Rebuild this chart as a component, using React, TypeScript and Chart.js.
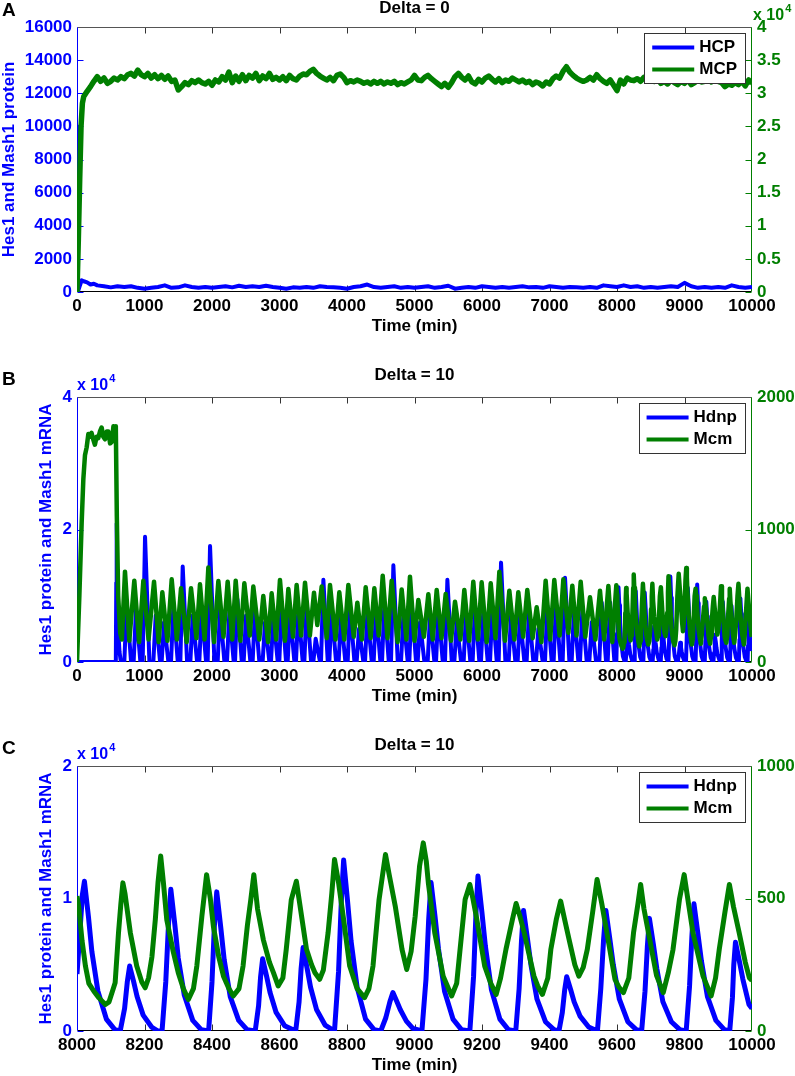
import React, { useEffect, useRef } from "react";
import { Chart, registerables } from "chart.js";
Chart.register(...registerables);

const BLUE = "#0000ff";
const GREEN = "#007f00";
const FONT = '"Liberation Sans", Arial, Helvetica, sans-serif';

// ---------------- Panel A (Delta = 0) ----------------
const A_HCP_T = [0, 8, 20, 40, 70, 100, 150, 200, 250, 300,
  400, 500, 600, 700, 800, 900, 1000, 1100, 1200, 1300, 1400, 1500, 1600, 1700, 1800, 1900,
  2000, 2100, 2200, 2300, 2400, 2500, 2600, 2700, 2800, 2900, 3000, 3100, 3200, 3300, 3400,
  3500, 3600, 3700, 3800, 3900, 4000, 4100, 4200, 4300, 4400, 4500, 4600, 4700, 4800, 4900,
  5000, 5100, 5200, 5300, 5400, 5500, 5600, 5700, 5800, 5900, 6000, 6100, 6200, 6300, 6400,
  6500, 6600, 6700, 6800, 6900, 7000, 7100, 7200, 7300, 7400, 7500, 7600, 7700, 7800, 7900,
  8000, 8100, 8200, 8300, 8400, 8500, 8600, 8700, 8800, 8900, 9000, 9100, 9200, 9300, 9400,
  9500, 9600, 9700, 9800, 9900, 10000];
const A_HCP = [10000, 1500, 100, 350, 700, 650, 580, 450, 500, 400,
  350, 280, 350, 300, 350, 250, 200, 250, 300, 400, 250, 280, 400, 300, 250, 300,
  250, 300, 350, 280, 380, 300, 350, 300, 380, 300, 250, 200, 280, 250, 300,
  250, 350, 300, 280, 250, 200, 300, 350, 450, 300, 250, 300, 350, 250, 300,
  250, 300, 350, 250, 300, 380, 200, 250, 300, 250, 350, 300, 250, 300, 250,
  300, 350, 280, 300, 250, 350, 300, 250, 300, 280, 250, 300, 250, 400, 350,
  300, 400, 300, 350, 250, 300, 250, 300, 350, 300, 550, 350, 250, 300, 250,
  300, 250, 400, 300, 250, 300];

const A_MCP_T = [0, 20, 40, 60, 80, 100, 150, 200, 250, 300, 350, 400, 450, 500, 550, 600, 650, 700, 750, 800, 850, 900, 950,
  1000, 1050, 1100, 1150, 1200, 1250, 1300, 1350, 1400, 1450, 1500, 1550, 1600, 1650, 1700, 1750, 1800, 1850, 1900, 1950,
  2000, 2050, 2100, 2150, 2200, 2250, 2300, 2350, 2400, 2450, 2500, 2550, 2600, 2650, 2700, 2750, 2800, 2850, 2900, 2950,
  3000, 3050, 3100, 3150, 3200, 3250, 3300, 3350, 3400, 3450, 3500, 3550, 3600, 3650, 3700, 3750, 3800, 3850, 3900, 3950,
  4000, 4050, 4100, 4150, 4200, 4250, 4300, 4350, 4400, 4450, 4500, 4550, 4600, 4650, 4700, 4750, 4800, 4850, 4900, 4950,
  5000, 5050, 5100, 5150, 5200, 5250, 5300, 5350, 5400, 5450, 5500, 5550, 5600, 5650, 5700, 5750, 5800, 5850, 5900, 5950,
  6000, 6050, 6100, 6150, 6200, 6250, 6300, 6350, 6400, 6450, 6500, 6550, 6600, 6650, 6700, 6750, 6800, 6850, 6900, 6950,
  7000, 7050, 7100, 7150, 7200, 7250, 7300, 7350, 7400, 7450, 7500, 7550, 7600, 7650, 7700, 7750, 7800, 7850, 7900, 7950,
  8000, 8050, 8100, 8150, 8200, 8250, 8300, 8350, 8400, 8450, 8500, 8550, 8600, 8650, 8700, 8750, 8800, 8850, 8900, 8950,
  9000, 9050, 9100, 9150, 9200, 9250, 9300, 9350, 9400, 9450, 9500, 9550, 9600, 9650, 9700, 9750, 9800, 9850, 9900, 9950,
  10000];
const A_MCP = [0, 8000, 17000, 25000, 28500, 29500, 30300, 31000, 31800, 32500, 31800, 32300, 31500, 31800, 32300, 32000, 32500, 32200, 32800, 33000, 32600, 33500, 32800,
  32500, 33000, 32300, 32800, 32200, 32700, 32100, 32600, 31800, 32000, 30500, 31000, 31600, 31300, 31900, 31600, 32000, 31600, 31400, 31800,
  31200, 32000, 31700, 32500, 32000, 33200, 31600, 32600, 31800, 32800, 31900, 32700, 32300, 33000, 31900, 32600, 32200, 33000, 32100, 32400,
  32000, 32500, 31900, 32700, 32200, 32000, 32600, 32900, 32800, 33300, 33600, 33000, 32600, 32300, 32000, 32400, 31900, 32700, 32900, 32400,
  31600, 31900, 31700, 32000, 31800, 31500, 31700, 31400, 31800, 31500, 31800, 31400, 31700, 31500, 31800, 31300, 31600, 31400, 31700, 32000,
  32700, 32000, 31900, 32400, 32700, 32200, 31800, 31400, 31000, 31500, 30900, 31600, 32500, 33000, 32400, 32000, 32600, 31700, 31400, 32100,
  31700, 32300, 32600, 32100, 31700, 32200, 31600, 32000, 31800, 32300, 32000, 31700, 32000, 31600, 31800, 31300, 31700, 31500, 31100, 31700,
  31400, 32200, 32600, 32300, 33300, 34000, 33200, 32700, 32300, 32000, 31800, 32000, 32400, 32000, 32800, 32200, 31800, 31500, 32000, 31200,
  30400, 32000, 31400, 32300, 32000, 31900, 32200, 31800, 32400, 32000, 32600, 31800, 32200, 31500, 31800, 31400, 32000, 31600, 31300, 31800,
  31500, 32000, 31300, 31600, 32000, 31700, 31800, 32200, 31700, 32000, 31800, 31600, 31000, 31400, 31200, 31600, 31300, 31800, 31100, 32000,
  31500];

// ---------------- Panel C (Delta = 10, 8000-10000) ----------------
const C_HDNP_T = [8000, 8010, 8016, 8022, 8034, 8044, 8062, 8087, 8112, 8128,
  8141, 8149, 8156, 8168, 8178, 8196, 8221, 8240,
  8252, 8263, 8271, 8278, 8290, 8300, 8318, 8343, 8368, 8390,
  8400, 8407, 8414, 8426, 8436, 8454, 8479, 8504, 8528,
  8538, 8544, 8550, 8562, 8572, 8590, 8615, 8648,
  8658, 8664, 8670, 8682, 8692, 8710, 8735, 8763,
  8775, 8783, 8790, 8802, 8812, 8830, 8855, 8880, 8900,
  8915, 8927, 8936, 8948, 8958, 8976, 8995, 9022,
  9034, 9042, 9049, 9061, 9071, 9089, 9114, 9139, 9164,
  9175, 9182, 9188, 9200, 9210, 9228, 9253, 9278, 9300,
  9310, 9317, 9323, 9335, 9345, 9363, 9388, 9413, 9428,
  9438, 9445, 9451, 9463, 9473, 9491, 9516, 9542,
  9552, 9560, 9567, 9579, 9589, 9607, 9632, 9657, 9673,
  9683, 9690, 9696, 9708, 9718, 9736, 9761, 9786, 9805,
  9815, 9822, 9828, 9840, 9850, 9868, 9893, 9918, 9934,
  9942, 9946, 9951, 9963, 9973, 9991, 10000];
const C_HDNP = [4300, 8000, 10300, 11300, 8600, 6000, 3000, 900, 100, 0,
  1700, 3700, 4900, 3700, 2600, 1200, 300, 0,
  0, 3700, 8000, 10700, 8000, 5500, 2700, 800, 100, 0,
  3700, 7900, 10500, 7800, 5400, 2600, 800, 100, 0,
  1900, 4100, 5450, 4100, 2900, 1400, 400, 0,
  2200, 4700, 6300, 4700, 3300, 1600, 450, 0,
  4500, 9700, 12900, 9700, 6800, 3300, 900, 100, 0,
  1000, 2200, 2900, 2200, 1600, 750, 200, 0,
  3900, 8400, 11200, 8600, 6200, 3000, 900, 100, 0,
  4100, 8800, 11700, 8900, 6400, 3100, 900, 100, 0,
  3200, 6800, 9100, 6900, 5000, 2400, 700, 100, 0,
  1400, 3100, 4100, 3100, 2200, 1100, 300, 0,
  3200, 6800, 9100, 6900, 5000, 2400, 700, 100, 0,
  3000, 6400, 8500, 6500, 4700, 2200, 700, 100, 0,
  3400, 7200, 9600, 7300, 5300, 2600, 800, 100, 0,
  2500, 5000, 6700, 5200, 3900, 2000, 1700];

const C_MCM_T = [8000, 8005, 8015, 8025, 8035, 8050, 8065, 8084, 8095, 8105, 8113, 8123, 8130, 8136, 8142, 8158, 8177, 8192, 8202,
  8212, 8222, 8232, 8240, 8248, 8256, 8266, 8285, 8300, 8315, 8330, 8345, 8355, 8370, 8384, 8395, 8404, 8420, 8434, 8450, 8463,
  8480, 8492, 8505, 8515, 8524, 8535, 8552, 8570, 8582, 8596, 8610, 8620, 8635, 8650, 8660, 8680, 8695, 8705, 8719,
  8730, 8744, 8755, 8763, 8775, 8790, 8808, 8830, 8852, 8865, 8877, 8895, 8914, 8925, 8943, 8963, 8977,
  8990, 9002, 9015, 9026, 9035, 9041, 9060, 9085, 9110, 9125, 9135, 9150, 9164, 9173, 9183, 9208, 9226, 9242,
  9255, 9271, 9290, 9301, 9313, 9325, 9354, 9365, 9379, 9395, 9404, 9420, 9433, 9445, 9458, 9475, 9487,
  9500, 9512, 9528, 9541, 9555, 9570, 9594, 9606, 9619, 9635, 9649, 9662, 9670, 9680, 9697, 9717, 9737,
  9752, 9766, 9785, 9799, 9812, 9825, 9855, 9879, 9892, 9903, 9920, 9933, 9945, 9962, 9980, 9992, 10000];
const C_MCM = [509, 470, 340, 245, 180, 150, 125, 100, 110, 150, 182, 371, 480, 559, 520, 371, 245, 185, 163,
  200, 280, 420, 560, 660, 560, 420, 300, 220, 160, 119, 160, 245, 433, 590, 500, 396, 280, 207, 160, 132,
  160, 245, 400, 496, 590, 460, 345, 260, 220, 170, 200, 308, 496, 565, 480, 308, 250, 220, 195,
  230, 371, 520, 647, 560, 420, 245, 160, 126, 160, 245, 496, 666, 590, 471, 308, 232,
  300, 433, 622, 710, 640, 559, 371, 207, 132, 180, 308, 496, 553, 500, 433, 245, 180, 138,
  200, 308, 420, 481, 430, 371, 207, 170, 138, 200, 308, 420, 490, 420, 345, 250, 207,
  240, 308, 450, 572, 480, 371, 195, 165, 145, 200, 371, 480, 553, 460, 345, 210, 145,
  220, 308, 496, 590, 480, 371, 207, 132, 200, 308, 450, 553, 470, 371, 260, 201, 190];

// ---------------- Panel B (Delta = 10, 0-8000; 8000-10000 shares panel C data) ----------------
const B_HDNP_T = [0, 575, 582, 588, 596, 610, 630, 650,
  701, 736, 801, 839, 874, 939, 973, 1008, 1073, 1131, 1166, 1231, 1254, 1289, 1354,
  1393, 1428, 1493, 1531, 1566, 1631, 1679, 1714, 1779, 1812, 1847, 1912, 1936, 1971, 2036,
  2084, 2119, 2184, 2222, 2257, 2322, 2341, 2376, 2441, 2469, 2504, 2569, 2602, 2637, 2702,
  2750, 2785, 2850, 2874, 2909, 2974, 2997, 3032, 3097, 3121, 3156, 3221, 3244, 3279, 3344,
  3368, 3403, 3468, 3501, 3536, 3601, 3615, 3650, 3715, 3738, 3773, 3838, 3876, 3911, 3976,
  4010, 4045, 4110, 4143, 4178, 4243, 4267, 4302, 4367, 4395, 4430, 4495, 4519, 4554, 4619,
  4652, 4687, 4752, 4800, 4835, 4900, 4923, 4958, 5023, 5047, 5082, 5147, 5195, 5230, 5295,
  5319, 5354, 5419, 5452, 5487, 5552, 5590, 5625, 5690, 5728, 5763, 5828, 5861, 5896, 5961,
  5985, 6020, 6085, 6119, 6154, 6219, 6247, 6282, 6347, 6395, 6430, 6495, 6528, 6563, 6628,
  6661, 6696, 6761, 6800, 6835, 6900, 6933, 6968, 7033, 7061, 7096, 7161, 7195, 7230, 7295,
  7328, 7363, 7428, 7452, 7487, 7552, 7590, 7625, 7690, 7738, 7773, 7838, 7862, 7897, 7962, 7990];
const B_HDNP = [0, 0, 12000, 20900, 12000, 5000, 1500, 0,
  0, 9000, 0, 0, 8000, 0, 0, 18900, 0, 0, 7000, 0, 0, 6000, 0,
  0, 8500, 0, 0, 14400, 0, 0, 7000, 0, 0, 8000, 0, 0, 17500, 0,
  0, 8000, 0, 0, 7500, 0, 0, 9500, 0, 0, 7000, 0, 0, 8000, 0,
  0, 6000, 0, 0, 7000, 0, 0, 9000, 0, 0, 7500, 0, 0, 8000, 0,
  0, 9000, 0, 0, 3500, 0, 0, 12400, 0, 0, 8000, 0, 0, 7000, 0,
  0, 8500, 0, 0, 5000, 0, 0, 7500, 0, 0, 8000, 0, 0, 9000, 0,
  0, 14600, 0, 0, 7000, 0, 0, 9000, 0, 0, 6000, 0, 0, 7000, 0,
  0, 8000, 0, 0, 12400, 0, 0, 6000, 0, 0, 7500, 0, 0, 8500, 0,
  0, 8000, 0, 0, 8500, 0, 0, 15000, 0, 0, 7000, 0, 0, 7000, 0,
  0, 7500, 0, 0, 5000, 0, 0, 8500, 0, 0, 9000, 0, 0, 12700, 0,
  0, 8000, 0, 0, 8000, 0, 0, 6000, 0, 0, 9000, 0, 0, 9000, 0, 0];

const B_MCM_T = [0, 35, 69, 94, 118, 143, 168, 193, 215, 240, 265, 290, 315, 340, 365, 390, 415, 440, 465, 490, 515, 540, 555, 565, 575, 590, 610, 640, 665,
  711, 775, 849, 920, 983, 1060, 1141, 1210, 1264, 1340, 1403, 1480, 1541, 1625, 1689, 1770, 1822, 1890, 1946, 2030,
  2094, 2170, 2232, 2300, 2351, 2420, 2479, 2560, 2612, 2700, 2760, 2830, 2884, 2950, 3007, 3080, 3131, 3200,
  3254, 3320, 3378, 3450, 3511, 3560, 3625, 3700, 3748, 3830, 3886, 3960, 4020, 4100, 4153, 4220,
  4277, 4350, 4405, 4470, 4529, 4600, 4662, 4750, 4810, 4880, 4933, 5000, 5057, 5140, 5205, 5270,
  5329, 5400, 5462, 5540, 5600, 5680, 5738, 5810, 5871, 5940, 5995, 6070, 6129, 6200, 6257, 6340,
  6405, 6480, 6538, 6610, 6671, 6750, 6810, 6880, 6943, 7010, 7071, 7150, 7205, 7280, 7338, 7400,
  7462, 7530, 7600, 7680, 7748, 7810, 7872, 7930, 7990];
const B_MCM = [0, 500, 1050, 1380, 1560, 1620, 1720, 1700, 1730, 1680, 1640, 1700, 1690, 1740, 1770, 1700, 1680, 1740, 1740, 1650, 1660, 1780, 1700, 1680, 1780, 1100, 500, 220, 170,
  682, 160, 614, 150, 614, 170, 606, 150, 526, 160, 624, 170, 556, 150, 556, 180, 586, 170, 714, 150,
  611, 190, 606, 170, 614, 160, 594, 200, 569, 170, 498, 150, 518, 170, 619, 160, 551, 190,
  581, 200, 599, 200, 523, 280, 569, 180, 581, 170, 526, 170, 581, 190, 448, 170,
  564, 180, 556, 200, 651, 180, 614, 150, 548, 170, 644, 160, 468, 190, 511, 170,
  543, 180, 513, 160, 455, 170, 543, 160, 606, 170, 601, 150, 594, 180, 682, 160,
  538, 170, 526, 190, 543, 180, 413, 150, 614, 170, 619, 200, 624, 220, 576, 200,
  606, 190, 488, 170, 538, 170, 574, 150, 580];

// ---------------- tick values ----------------
const A_X_TICKS = [0, 1000, 2000, 3000, 4000, 5000, 6000, 7000, 8000, 9000, 10000];
const A_LEFT_TICKS = [0, 2000, 4000, 6000, 8000, 10000, 12000, 14000, 16000];
const A_RIGHT_TICKS = [0, 5000, 10000, 15000, 20000, 25000, 30000, 35000, 40000];
const B_LEFT_TICKS = [0, 20000, 40000];
const B_RIGHT_TICKS = [0, 1000, 2000];
const C_X_TICKS = [8000, 8200, 8400, 8600, 8800, 9000, 9200, 9400, 9600, 9800, 10000];
const C_LEFT_TICKS = [0, 10000, 20000];
const C_RIGHT_TICKS = [0, 500, 1000];

function pts(t: number[], v: number[]) {
  const n = Math.min(t.length, v.length);
  const out: { x: number; y: number }[] = [];
  for (let i = 0; i < n; i++) out.push({ x: t[i], y: v[i] });
  return out;
}

const tickFont = { family: FONT, size: 17, weight: "bold" as const };

const matlabPlugin = {
  id: "matlab",
  beforeDatasetsDraw(chart: any, _a: any, o: any) {
    const { ctx, chartArea: a, scales } = chart;
    ctx.save();
    ctx.lineWidth = 1;
    const seg = (x1: number, y1: number, x2: number, y2: number) => {
      ctx.beginPath();
      ctx.moveTo(x1, y1);
      ctx.lineTo(x2, y2);
      ctx.stroke();
    };
    const L = Math.round(a.left) + 0.5;
    const R = Math.round(a.right) - 0.5;
    const T = Math.round(a.top) + 0.5;
    const B = Math.round(a.bottom) - 0.5;
    ctx.strokeStyle = "#333";
    scales.x.ticks.forEach((t: any) => {
      const px = Math.round(scales.x.getPixelForValue(t.value)) + 0.5;
      if (px <= L + 1 || px >= R - 1) return;
      seg(px, T, px, T + 6);
      seg(px, B, px, B - 6);
    });
    ctx.strokeStyle = BLUE;
    scales.y.ticks.forEach((t: any) => {
      const py = Math.round(scales.y.getPixelForValue(t.value)) + 0.5;
      seg(L, py, L + 6, py);
    });
    ctx.strokeStyle = GREEN;
    scales.y1.ticks.forEach((t: any) => {
      const py = Math.round(scales.y1.getPixelForValue(t.value)) + 0.5;
      seg(R - 6, py, R, py);
    });
    ctx.strokeStyle = "#555";
    seg(L, T, R, T);
    ctx.strokeStyle = "#000";
    seg(L, B, R, B);
    ctx.strokeStyle = BLUE;
    seg(L, T, L, B);
    ctx.strokeStyle = GREEN;
    seg(R, T, R, B);
    ctx.restore();
  },
  afterDraw(chart: any, _a: any, o: any) {
    const { ctx, chartArea: a } = chart;
    ctx.save();
    const cx = (a.left + a.right) / 2;
    ctx.fillStyle = "#000";
    ctx.font = `bold 17px ${FONT}`;
    ctx.textAlign = "center";
    ctx.textBaseline = "middle";
    ctx.fillText(o.title, cx, o.titleY);
    ctx.font = `bold 19px ${FONT}`;
    ctx.textAlign = "left";
    ctx.fillText(o.letter, 2, o.letterY);
    ctx.font = `bold 17px ${FONT}`;
    ctx.textAlign = "center";
    ctx.fillText(o.xTitle, cx, a.bottom + 34);
    ctx.save();
    ctx.translate(o.yTitleX, (a.top + a.bottom) / 2);
    ctx.rotate(-Math.PI / 2);
    ctx.fillStyle = BLUE;
    ctx.fillText(o.yTitle, 0, 0);
    ctx.restore();
    if (o.exp) {
      const ex = o.exp.side === "right" ? a.right + 1 : a.left;
      const base = a.top - 7;
      ctx.fillStyle = o.exp.side === "right" ? GREEN : BLUE;
      ctx.textAlign = "left";
      ctx.textBaseline = "alphabetic";
      ctx.font = `bold 16px ${FONT}`;
      ctx.fillText("x 10", ex, base);
      const w = ctx.measureText("x 10").width;
      ctx.font = `bold 11px ${FONT}`;
      ctx.fillText("4", ex + w + 1, base - 8);
    }
    ctx.font = `bold 17px ${FONT}`;
    ctx.textBaseline = "middle";
    ctx.textAlign = "left";
    const items = o.legend as { label: string; color: string }[];
    const tw = Math.max(...items.map((it) => ctx.measureText(it.label).width));
    const boxR = a.right - 7;
    const textX = boxR - 8 - tw;
    const lineE = textX - 5;
    const lineS = lineE - 42;
    const boxL = lineS - 8;
    const boxT = a.top + 6;
    const boxB = a.top + 56;
    ctx.fillStyle = "#fff";
    ctx.fillRect(boxL, boxT, boxR - boxL, boxB - boxT);
    ctx.strokeStyle = "#333";
    ctx.lineWidth = 1;
    ctx.strokeRect(Math.round(boxL) + 0.5, Math.round(boxT) + 0.5, Math.round(boxR - boxL), Math.round(boxB - boxT));
    items.forEach((it, i) => {
      const y = boxT + 14.5 + i * 22;
      ctx.strokeStyle = it.color;
      ctx.lineWidth = 4;
      ctx.beginPath();
      ctx.moveTo(lineS, y);
      ctx.lineTo(lineE, y);
      ctx.stroke();
      ctx.fillStyle = "#000";
      ctx.fillText(it.label, textX, y);
    });
    ctx.restore();
  },
};

type PanelSpec = {
  height: number;
  padTop: number;
  xMin: number;
  xMax: number;
  xTicks: number[];
  yTicks: number[];
  yFmt: (v: number) => string;
  y1Ticks: number[];
  y1Fmt: (v: number) => string;
  blue: { x: number; y: number }[];
  green: { x: number; y: number }[];
  blueW: number;
  greenW: number;
  matlab: any;
};

function makeConfig(p: PanelSpec): any {
  const yStep = p.yTicks[1] - p.yTicks[0];
  const y1Step = p.y1Ticks[1] - p.y1Ticks[0];
  const xStep = p.xTicks[1] - p.xTicks[0];
  return {
    type: "line",
    data: {
      datasets: [
        {
          label: p.matlab.legend[1].label,
          data: p.green,
          yAxisID: "y1",
          borderColor: GREEN,
          borderWidth: p.greenW,
          pointRadius: 0,
          fill: false,
          tension: 0,
          order: 0,
          borderJoinStyle: "round",
        },
        {
          label: p.matlab.legend[0].label,
          data: p.blue,
          yAxisID: "y",
          borderColor: BLUE,
          borderWidth: p.blueW,
          pointRadius: 0,
          fill: false,
          tension: 0,
          order: 1,
          borderJoinStyle: "round",
        },
      ],
    },
    options: {
      animation: false,
      responsive: false,
      devicePixelRatio: 1,
      events: [],
      layout: { padding: { top: p.padTop, left: 0, right: 0, bottom: 0 } },
      scales: {
        x: {
          type: "linear",
          min: p.xMin,
          max: p.xMax,
          afterBuildTicks: (s: any) => { s.ticks = p.xTicks.map((v) => ({ value: v })); },
          ticks: { stepSize: xStep, autoSkip: false, maxRotation: 0, color: "#000", font: tickFont, padding: 4, callback: (v: any) => String(v) },
          grid: { display: false, drawTicks: false },
          border: { display: false },
          afterFit: (s: any) => { s.height = p.height - p.padTop - 265; },
        },
        y: {
          type: "linear",
          position: "left",
          min: p.yTicks[0],
          max: p.yTicks[p.yTicks.length - 1],
          afterBuildTicks: (s: any) => { s.ticks = p.yTicks.map((v) => ({ value: v })); },
          ticks: { stepSize: yStep, color: BLUE, font: tickFont, padding: 5, callback: (v: any) => p.yFmt(Number(v)) },
          grid: { display: false, drawTicks: false },
          border: { display: false },
          afterFit: (s: any) => { s.width = 77; },
        },
        y1: {
          type: "linear",
          position: "right",
          min: p.y1Ticks[0],
          max: p.y1Ticks[p.y1Ticks.length - 1],
          afterBuildTicks: (s: any) => { s.ticks = p.y1Ticks.map((v) => ({ value: v })); },
          ticks: { stepSize: y1Step, color: GREEN, font: tickFont, padding: 5, callback: (v: any) => p.y1Fmt(Number(v)) },
          grid: { display: false, drawTicks: false },
          border: { display: false },
          afterFit: (s: any) => { s.width = 43; },
        },
      },
      plugins: {
        legend: { display: false },
        tooltip: { enabled: false },
        matlab: p.matlab,
      },
    },
    plugins: [matlabPlugin],
  };
}

function Panel({ top, spec }: { top: number; spec: PanelSpec }) {
  const ref = useRef<HTMLCanvasElement>(null);
  useEffect(() => {
    const chart = new Chart(ref.current as HTMLCanvasElement, makeConfig(spec));
    return () => chart.destroy();
  }, []);
  return (
    <canvas
      ref={ref}
      width={795}
      height={spec.height}
      style={{ position: "absolute", left: 0, top, width: 795, height: spec.height }}
    />
  );
}

const specA: PanelSpec = {
  height: 345,
  padTop: 27,
  xMin: 0,
  xMax: 10000,
  xTicks: A_X_TICKS,
  yTicks: A_LEFT_TICKS,
  yFmt: (v) => String(v),
  y1Ticks: A_RIGHT_TICKS,
  y1Fmt: (v) => String(v / 10000),
  blue: pts(A_HCP_T, A_HCP),
  green: pts(A_MCP_T, A_MCP),
  blueW: 4,
  greenW: 5.5,
  matlab: {
    title: "Delta = 0", titleY: 8, letter: "A", letterY: 11,
    yTitle: "Hes1 and Mash1 protein", yTitleX: 9, xTitle: "Time (min)",
    exp: { side: "right" },
    legend: [{ label: "HCP", color: BLUE }, { label: "MCP", color: GREEN }],
  },
};

const specB: PanelSpec = {
  height: 366,
  padTop: 57,
  xMin: 0,
  xMax: 10000,
  xTicks: A_X_TICKS,
  yTicks: B_LEFT_TICKS,
  yFmt: (v) => String(v / 10000),
  y1Ticks: B_RIGHT_TICKS,
  y1Fmt: (v) => String(v),
  blue: pts(B_HDNP_T.concat(C_HDNP_T), B_HDNP.concat(C_HDNP)),
  green: pts(B_MCM_T.concat(C_MCM_T), B_MCM.concat(C_MCM)),
  blueW: 4,
  greenW: 4.5,
  matlab: {
    title: "Delta = 10", titleY: 35, letter: "B", letterY: 40,
    yTitle: "Hes1 protein and Mash1 mRNA", yTitleX: 46, xTitle: "Time (min)",
    exp: { side: "left" },
    legend: [{ label: "Hdnp", color: BLUE }, { label: "Mcm", color: GREEN }],
  },
};

const specC: PanelSpec = {
  height: 376,
  padTop: 66,
  xMin: 8000,
  xMax: 10000,
  xTicks: C_X_TICKS,
  yTicks: C_LEFT_TICKS,
  yFmt: (v) => String(v / 10000),
  y1Ticks: C_RIGHT_TICKS,
  y1Fmt: (v) => String(v),
  blue: pts(C_HDNP_T, C_HDNP),
  green: pts(C_MCM_T, C_MCM),
  blueW: 5,
  greenW: 5,
  matlab: {
    title: "Delta = 10", titleY: 45, letter: "C", letterY: 49,
    yTitle: "Hes1 protein and Mash1 mRNA", yTitleX: 46, xTitle: "Time (min)",
    exp: { side: "left" },
    legend: [{ label: "Hdnp", color: BLUE }, { label: "Mcm", color: GREEN }],
  },
};

export default function App() {
  return (
    <div style={{ position: "absolute", left: 0, top: 0, width: 795, height: 1076, background: "#fff", overflow: "hidden" }}>
      <Panel top={0} spec={specA} />
      <Panel top={340} spec={specB} />
      <Panel top={700} spec={specC} />
    </div>
  );
}
